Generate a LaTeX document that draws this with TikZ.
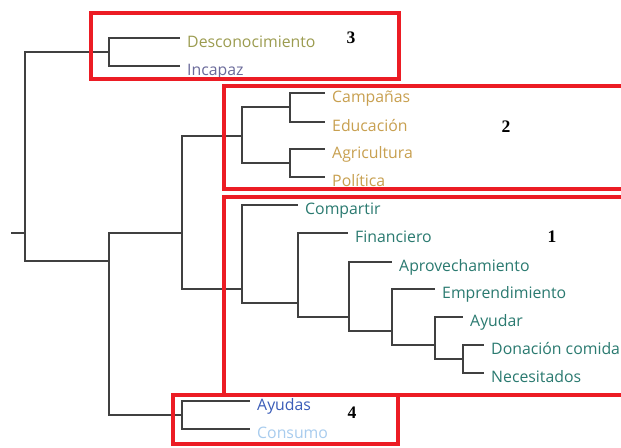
\documentclass[tikz,border=0pt]{standalone}
\usepackage{fontspec}
\setmainfont{Open Sans}
\newfontfamily\tagfont{Liberation Serif}
\usepackage{xcolor}
\usetikzlibrary{positioning}
\definecolor{boxred}{RGB}{236,28,36}
\definecolor{treegray}{RGB}{64,64,64}
\definecolor{olivetxt}{RGB}{156,156,80}
\definecolor{purpletxt}{RGB}{106,106,154}
\definecolor{goldtxt}{RGB}{200,160,80}
\definecolor{tealtxt}{RGB}{42,122,112}
\definecolor{bluetxt}{RGB}{58,92,184}
\definecolor{skytxt}{RGB}{168,204,238}
\tikzset{
  branch/.style={draw=treegray,line width=1.1pt},
  elbow/.style={to path={|- (\tikztotarget)}},
  leaf/.style={anchor=west,inner sep=0pt,inner xsep=0.21cm,text height=15.5pt,text depth=0pt,
    font=\fontsize{13.5}{15}\selectfont,text=#1},
  group/.style={draw=boxred,line width=3.4pt},
  tag/.style={font=\tagfont\bfseries\fontsize{15}{17}\selectfont}
}
\begin{document}
\begin{tikzpicture}[x=0.03cm,y=-0.03cm]
\clip (0,0) rectangle (621,447);
\fill[white] (0,0) rectangle (621,447);
% joints
\coordinate (s0) at (11,233);
\coordinate (root) at (25,233);
\coordinate (c3) at (109,52);
\coordinate (cL) at (109,261);
\coordinate (cM) at (182,233);
\coordinate (c4) at (182,415);
\coordinate (c2) at (242,136);
\coordinate (c2a) at (290,107);
\coordinate (c2b) at (290,163);
\coordinate (c1) at (242,289);
\coordinate (cF) at (298,303);
\coordinate (cA) at (349,317);
\coordinate (cE) at (392,331);
\coordinate (cY) at (435,345);
\coordinate (cD) at (463,359);
% leaves
\node[leaf=olivetxt] (desc) at (180,38) {Desconocimiento};
\node[leaf=purpletxt] (inca) at (180,66) {Incapaz};
\node[leaf=goldtxt] (camp) at (325,93) {Campañas};
\node[leaf=goldtxt] (educ) at (325,122) {Educación};
\node[leaf=goldtxt] (agri) at (325,149) {Agricultura};
\node[leaf=goldtxt] (poli) at (325,177) {Política};
\node[leaf=tealtxt] (comp) at (298,205) {Compartir};
\node[leaf=tealtxt] (fina) at (348,233) {Financiero};
\node[leaf=tealtxt] (apro) at (392,262) {Aprovechamiento};
\node[leaf=tealtxt] (empr) at (435,289) {Emprendimiento};
\node[leaf=tealtxt] (ayur) at (463,317) {Ayudar};
\node[leaf=tealtxt] (dona) at (484,345) {Donación comida};
\node[leaf=tealtxt] (nece) at (484,373) {Necesitados};
\node[leaf=bluetxt] (ayud) at (250,401) {Ayudas};
\node[leaf=skytxt] (cons) at (250,429) {Consumo};
\path[branch]
(s0) edge (root)
(root) edge[elbow] (c3)
(root) edge[elbow] (cL)
(c3) edge[elbow] (desc.west)
(c3) edge[elbow] (inca.west)
(cL) edge[elbow] (cM)
(cL) edge[elbow] (c4)
(cM) edge[elbow] (c2)
(cM) edge[elbow] (c1)
(c2) edge[elbow] (c2a)
(c2) edge[elbow] (c2b)
(c2a) edge[elbow] (camp.west)
(c2a) edge[elbow] (educ.west)
(c2b) edge[elbow] (agri.west)
(c2b) edge[elbow] (poli.west)
(c1) edge[elbow] (comp.west)
(c1) edge[elbow] (cF)
(cF) edge[elbow] (fina.west)
(cF) edge[elbow] (cA)
(cA) edge[elbow] (apro.west)
(cA) edge[elbow] (cE)
(cE) edge[elbow] (empr.west)
(cE) edge[elbow] (cY)
(cY) edge[elbow] (ayur.west)
(cY) edge[elbow] (cD)
(cD) edge[elbow] (dona.west)
(cD) edge[elbow] (nece.west)
(c4) edge[elbow] (ayud.west)
(c4) edge[elbow] (cons.west);
% groups
\draw[group] (91,13) rectangle (399,79);
\draw[group] (224,86) rectangle (640,189);
\draw[group] (224,197) rectangle (640,395);
\draw[group] (173,395) rectangle (398,444);
\node[tag] (t3) at (351,38) {3};
\node[tag] (t2) at (506,127) {2};
\node[tag] (t1) at (552,237) {1};
\node[tag] (t4) at (352,413) {4};
\end{tikzpicture}
\end{document}
